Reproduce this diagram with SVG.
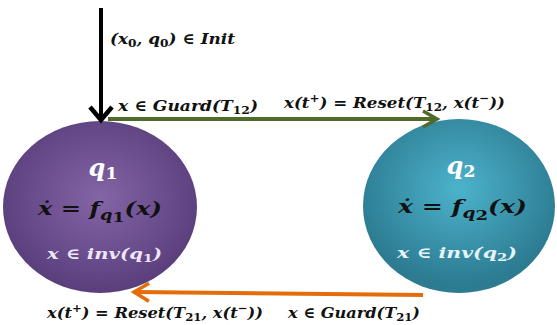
<svg xmlns="http://www.w3.org/2000/svg" width="557" height="325" viewBox="0 0 557 325">
<defs>
<radialGradient id="gPurple" cx="50%" cy="45%" r="55%">
<stop offset="0" stop-color="#8465a6"/>
<stop offset="1" stop-color="#5a3e7c"/>
</radialGradient>
<radialGradient id="gTeal" cx="50%" cy="40%" r="55%">
<stop offset="0" stop-color="#4cb3cc"/>
<stop offset="1" stop-color="#2c7b91"/>
</radialGradient>
<marker id="mBlack" markerUnits="userSpaceOnUse" markerWidth="30" markerHeight="30" viewBox="-20 -15 25 30" refX="0" refY="0" orient="auto">
<path d="M-13,-11 L0,0 L-13,11" fill="none" stroke="#000" stroke-width="4.5"/>
</marker>
<marker id="mGreen" markerUnits="userSpaceOnUse" markerWidth="30" markerHeight="30" viewBox="-20 -15 25 30" refX="0" refY="0" orient="auto">
<path d="M-14,-8 L0,0 L-14,8" fill="none" stroke="#4f6a2a" stroke-width="3.5"/>
</marker>
<marker id="mOrange" markerUnits="userSpaceOnUse" markerWidth="30" markerHeight="30" viewBox="-20 -15 25 30" refX="0" refY="0" orient="auto">
<path d="M-15,-9 L0,0 L-15,9" fill="none" stroke="#e46c0a" stroke-width="3.5"/>
</marker>
</defs>
<style>
.m{font-family:"DejaVu Serif","Liberation Serif",serif;font-weight:bold;font-style:italic;fill:#111;}
.s{font-style:normal;font-size:0.72em;}
.w{fill:#ffffff;}
.l{fill:#eee6f6;}
.lt{fill:#e6f4f8;}
.conn{fill:none;}
</style>
<rect width="557" height="325" fill="#ffffff"/>

<g id="node-q1">
<ellipse cx="100" cy="207" rx="97" ry="86" fill="url(#gPurple)"/>
<text class="m w" x="103" y="176" font-size="24" text-anchor="middle">q<tspan class="s" dy="3">1</tspan></text>
<text class="m" x="38" y="215" font-size="19" textLength="124" lengthAdjust="spacingAndGlyphs">ẋ = f<tspan font-size="14" dy="5">q</tspan><tspan class="s" font-size="9" dy="2">1</tspan><tspan dy="-7">(x)</tspan></text>
<text class="m l" x="47" y="259" font-size="15" textLength="115" lengthAdjust="spacingAndGlyphs">x ∈ inv(q<tspan class="s" dy="3">1</tspan><tspan dy="-3">)</tspan></text>
</g>

<g id="node-q2">
<ellipse cx="459" cy="206" rx="96" ry="87" fill="url(#gTeal)"/>
<text class="m w" x="461" y="174" font-size="24" text-anchor="middle">q<tspan class="s" dy="3">2</tspan></text>
<text class="m" x="398" y="213" font-size="19" textLength="129" lengthAdjust="spacingAndGlyphs">ẋ = f<tspan font-size="14" dy="5">q</tspan><tspan class="s" font-size="9" dy="2">2</tspan><tspan dy="-7">(x)</tspan></text>
<text class="m lt" x="397" y="258" font-size="15" textLength="120" lengthAdjust="spacingAndGlyphs">x ∈ inv(q<tspan class="s" dy="3">2</tspan><tspan dy="-3">)</tspan></text>
</g>

<g id="connectors">
<line class="conn" x1="101" y1="8" x2="101" y2="120" stroke="#000" stroke-width="4" marker-end="url(#mBlack)"/>
<line class="conn" x1="108" y1="119" x2="437" y2="119" stroke="#4f6a2a" stroke-width="4" marker-end="url(#mGreen)"/>
<line class="conn" x1="423" y1="295" x2="134" y2="292" stroke="#e46c0a" stroke-width="4" marker-end="url(#mOrange)"/>
</g>

<g id="labels">
<text class="m" x="110" y="44" font-size="15.5" textLength="125" lengthAdjust="spacingAndGlyphs">(x<tspan class="s" dy="3">0</tspan><tspan dy="-3">, q</tspan><tspan class="s" dy="3">0</tspan><tspan dy="-3">) ∈ Init</tspan></text>
<text class="m" x="118" y="111" font-size="15.5" textLength="140" lengthAdjust="spacingAndGlyphs">x ∈ Guard(T<tspan class="s" dy="3">12</tspan><tspan dy="-3">)</tspan></text>
<text class="m" x="284" y="108" font-size="15.5" textLength="221" lengthAdjust="spacingAndGlyphs">x(t<tspan class="s" dy="-6">+</tspan><tspan dy="6">) = Reset(T</tspan><tspan class="s" dy="3">12</tspan><tspan dy="-3">, x(t</tspan><tspan class="s" dy="-6">−</tspan><tspan dy="6">))</tspan></text>
<text class="m" x="47" y="318" font-size="15.5" textLength="216" lengthAdjust="spacingAndGlyphs">x(t<tspan class="s" dy="-6">+</tspan><tspan dy="6">) = Reset(T</tspan><tspan class="s" dy="3">21</tspan><tspan dy="-3">, x(t</tspan><tspan class="s" dy="-6">−</tspan><tspan dy="6">))</tspan></text>
<text class="m" x="288" y="318" font-size="15.5" textLength="132" lengthAdjust="spacingAndGlyphs">x ∈ Guard(T<tspan class="s" dy="3">21</tspan><tspan dy="-3">)</tspan></text>
</g>
</svg>
